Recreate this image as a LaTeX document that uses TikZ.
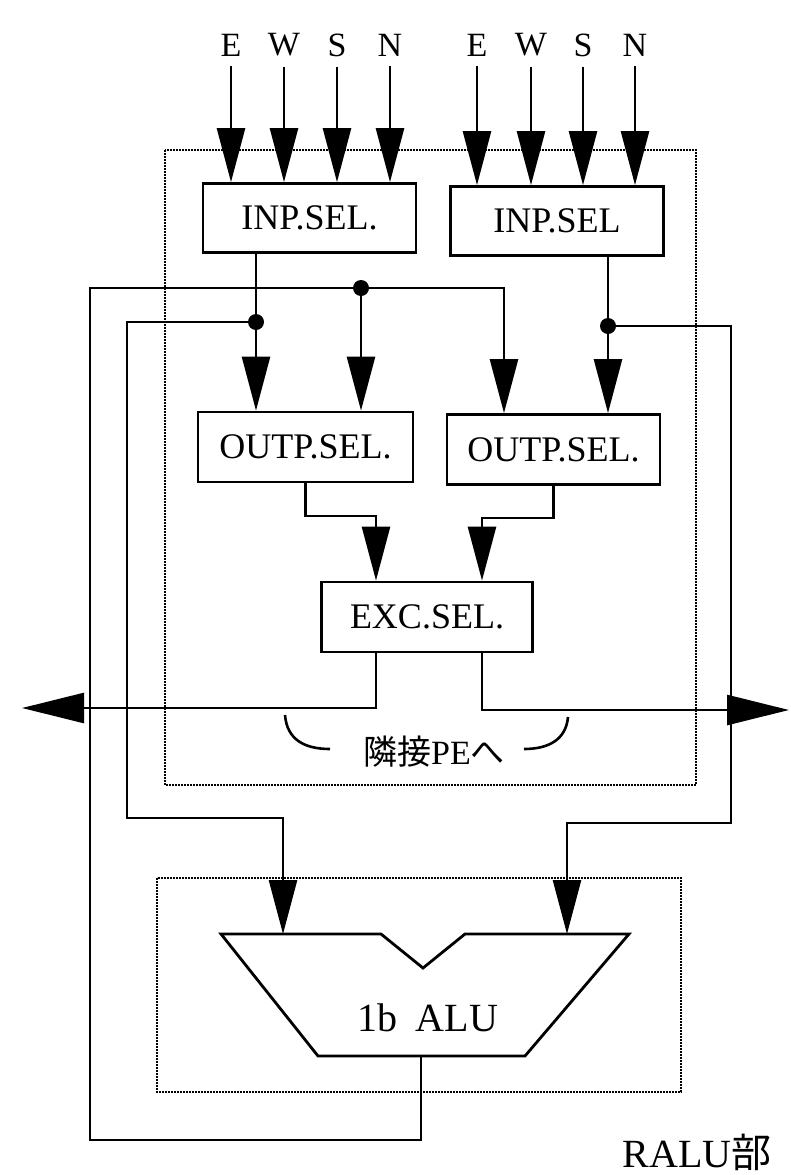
\documentclass[tikz,border=0pt]{standalone}
\usepackage{fontspec}
\setmainfont{Liberation Serif}
\newfontfamily\cjk{Noto Sans CJK JP}
\usetikzlibrary{arrows.meta}
\begin{document}
\begin{tikzpicture}[x=1pt,y=-1pt,line width=2.6pt,
  selbox/.style={draw,rectangle,line width=2.8pt,minimum width=213pt,minimum height=69pt,inner sep=0pt,font=\fontsize{36}{40}\selectfont},
  dirlab/.style={inner sep=0pt,font=\fontsize{34}{36}\selectfont},
  arr/.style={-{Triangle[length=54pt,width=28pt]}},
  bigarr/.style={-{Triangle[length=62pt,width=30pt]}},
  dotbox/.style={line width=2pt,densely dotted},
  jdot/.style={fill=black}]
\useasboundingbox[fill=white] (0,0) rectangle (790,1175);
% dotted frames
\draw[dotbox] (165,150) rectangle (696,785);
\draw[dotbox] (157,878) rectangle (681,1092);
% selector boxes
\node[selbox] (inp1) at (309.5,218) {INP.SEL.};
\node[selbox] (inp2) at (557,221) {INP.SEL};
\node[selbox,minimum width=215pt,minimum height=70pt] (outp1) at (305.5,447) {OUTP.SEL.};
\node[selbox,minimum width=213pt,minimum height=70pt] (outp2) at (553.5,449.5) {OUTP.SEL.};
\node[selbox,minimum width=211pt,minimum height=70pt] (exc) at (427,617) {EXC.SEL.};
% direction labels and input arrows
\foreach \n/\x/\t in {e1/231/E,w1/284/W,s1/337/S,n1/390/N}{
  \node[dirlab] (\n) at (\x,45) {\t};
  \draw[arr,shorten <=9pt] (\n.south) -- (\n.south |- inp1.north);
}
\foreach \n/\x/\t in {e2/477/E,w2/531/W,s2/583/S,n2/635/N}{
  \node[dirlab] (\n) at (\x,45) {\t};
  \draw[arr,shorten <=9pt] (\n.south) -- (\n.south |- inp2.north);
}
% coordinates
\coordinate (d1) at (256,322);
\coordinate (d2) at (361,288);
\coordinate (d3) at (608,326);
\coordinate (bus) at (504,288);
\coordinate (fb) at (90,1140);
\coordinate (c1) at (376,516);
\coordinate (c2) at (482,518);
\coordinate (c3) at (376,708);
\coordinate (c4) at (482,710);
\coordinate (lt) at (22,708);
\coordinate (rt) at (789,710);
\coordinate (c5) at (127,818);
\coordinate (c6) at (731,823);
\coordinate (aluin1) at (283,934);
\coordinate (aluin2) at (567,934);
\coordinate (aluout) at (421,1056);
% ALU
\draw[line width=2.8pt,line join=miter] (221,934) -- (381,934) -- (423,968) -- (465,934) -- (629,934) -- (525,1056) -- (318,1056) -- cycle;
\node[font=\fontsize{40}{44}\selectfont,inner sep=0pt] (alu) at (428,1018) {1b\hspace{0.45em}ALU};
% connectors
\draw[arr] (inp1.south -| d1) -- (d1 |- outp1.north);
\draw[arr] (inp2.south -| d3) -- (d3 |- outp2.north);
\draw[arr] (d2) -- (d2 |- outp1.north);
\draw[arr] (aluout) |- (fb) |- (bus) -- (bus |- outp2.north);
\draw[arr] (d1) -| (c5) -| (aluin1);
\draw[arr] (d3) -| (c6) -| (aluin2);
\draw[arr] (outp1.south) |- (c1) -- (c1 |- exc.north);
\draw[arr] (outp2.south) |- (c2) -- (c2 |- exc.north);
\draw[bigarr] (exc.south -| c3) -- (c3) -- (lt);
\draw[bigarr] (exc.south -| c4) -- (c4) -- (rt);
% junction dots
\fill[jdot] (d1) circle (8pt);
\fill[jdot] (d2) circle (8pt);
\fill[jdot] (d3) circle (8pt);
% brackets and label
\draw (285,715) .. controls (287,740) and (305,749) .. (330,749);
\draw (568,717) .. controls (566,740) and (548,749) .. (524,749);
\node[inner sep=0pt,font=\fontsize{34}{38}\selectfont] (pe) at (434,752) {{\cjk 隣接}PE{\cjk へ}};
\node[inner sep=0pt,font=\fontsize{40}{44}\selectfont] (ralu) at (697,1152) {RALU{\cjk 部}};
\end{tikzpicture}
\end{document}
